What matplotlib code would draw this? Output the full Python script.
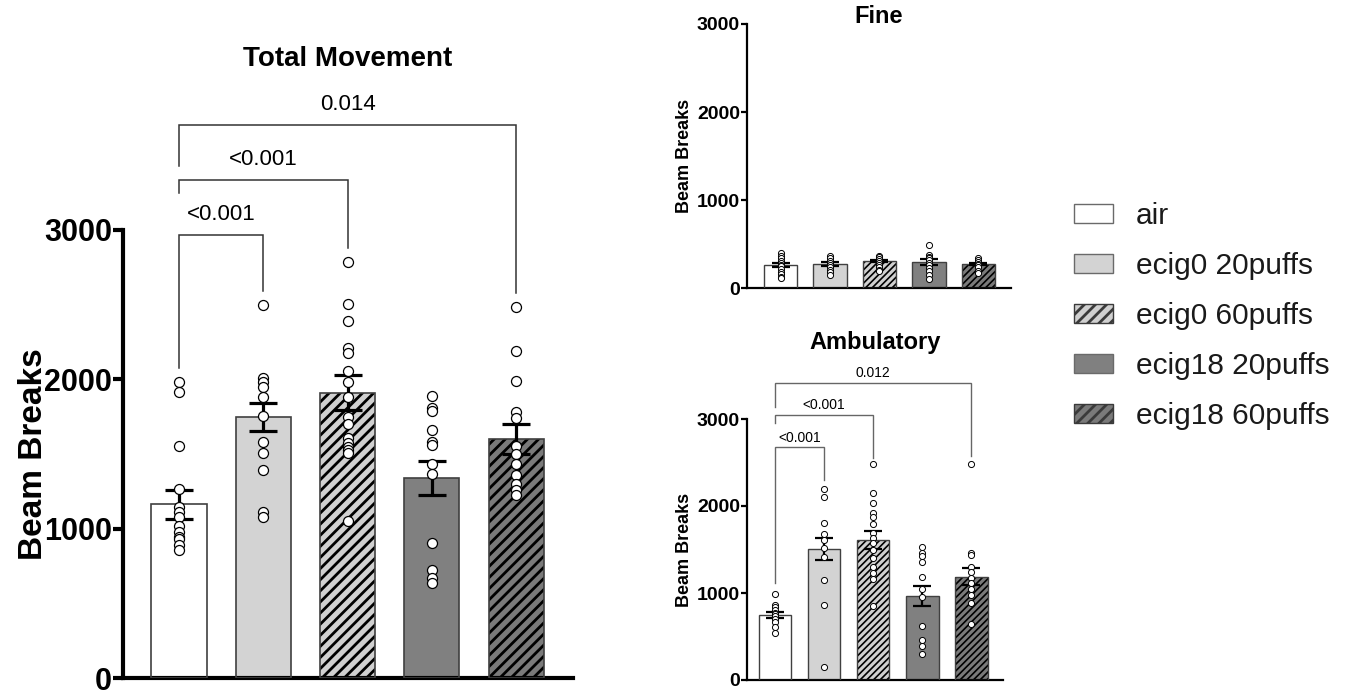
import matplotlib
matplotlib.use("Agg")
import matplotlib.pyplot as plt
from matplotlib.patches import Patch

plt.rcParams["font.family"] = ["Liberation Sans", "DejaVu Sans"]

# ---------------- data ----------------
groups = ["air", "ecig0 20puffs", "ecig0 60puffs", "ecig18 20puffs", "ecig18 60puffs"]

total_mean = [1163, 1746, 1911, 1340, 1601]
total_sem = [95, 93, 117, 115, 98]
total_air = [1980, 1918, 1554, 1264, 1147, 1114, 1080, 1020, 980, 947, 929, 891, 857]
total_e0_20 = [2498, 2007, 1985, 1951, 1884, 1755, 1583, 1509, 1393, 1114, 1080]
total_e0_60 = [2784, 2503, 2391, 2213, 2179, 2059, 1980, 1884, 1750, 1701, 1605,
               1576, 1549, 1527, 1505, 1052]
total_e18_20 = [1889, 1806, 1791, 1661, 1583, 1561, 1431, 1364, 902, 723, 667, 639]
total_e18_60 = [2485, 2192, 1989, 1778, 1743, 1551, 1499, 1435, 1362, 1297, 1259, 1228]

fine_mean = [264, 276, 310, 299, 276]
fine_sem = [22, 20, 16, 30, 16]
fine_air = [400, 370, 340, 310, 290, 270, 250, 220, 190, 160, 130, 120]
fine_e0_20 = [370, 340, 310, 290, 270, 240, 210, 180, 150]
fine_e0_60 = [370, 350, 330, 310, 290, 270, 240, 210, 200]
fine_e18_20 = [490, 380, 360, 340, 320, 290, 260, 230, 200, 150, 110]
fine_e18_60 = [340, 320, 300, 280, 260, 240, 200, 170]

amb_mean = [747, 1502, 1609, 966, 1188]
amb_sem = [40, 128, 107, 115, 100]
amb_air = [990, 860, 835, 805, 775, 755, 730, 700, 670, 610, 545]
amb_e0_20 = [2190, 2105, 1810, 1675, 1610, 1515, 1410, 1150, 860, 155]
amb_e0_60 = [2479, 2153, 2031, 1923, 1877, 1789, 1693, 1628, 1571, 1494, 1398,
             1303, 1226, 1157, 851]
amb_e18_20 = [1532, 1456, 1425, 1352, 1180, 1050, 950, 625, 460, 391, 295]
amb_e18_60 = [2483, 1464, 1433, 1303, 1238, 1169, 1111, 1042, 973, 881, 644]

# comparisons against air: (other group, bracket top, left leg end, right leg end)
total_pairs = [(1, 2969, 2076, 2594), (2, 3336, 3248, 2878), (4, 3704, 3429, 2577)]
total_pvals = ["<0.001", "<0.001", "0.014"]
amb_pairs = [(1, 2675, 1111, 2299), (2, 3046, 2950, 2548), (4, 3418, 3134, 2575)]
amb_pvals = ["<0.001", "<0.001", "0.012"]

# ---------------- styling ----------------
fills = ["white", "#d3d3d3", "#d0d0d0", "#808080", "#7a7a7a"]
hatched = [False, False, True, False, True]

big = dict(hatch="///", hatch_lw=2.0, bar_w=0.655, bar_lw=1.2, err_lw=2.3, cap=10,
           ms=7.2, mew=0.9, spine_lw=3.0, tick_len=7, tick_w=3.0, tick_fs=22,
           label_fs=24, p_fs=16, bracket_lw=1.1, bracket_c="#333333")
small = dict(hatch="/////", hatch_lw=1.2, bar_w=0.67, bar_lw=1.0, err_lw=1.6, cap=6.5,
             ms=4.4, mew=0.7, spine_lw=1.6, tick_len=4, tick_w=1.6, tick_fs=14,
             label_fs=13, p_fs=10, bracket_lw=1.0, bracket_c="#666666")


def draw_panel(ax, means, sems, points, s, xlim, ylim):
    for i, m in enumerate(means):
        plt.rcParams["hatch.linewidth"] = s["hatch_lw"]
        bars = ax.bar(i, m, width=s["bar_w"], color=fills[i], edgecolor="black",
                      linewidth=0, hatch=s["hatch"] if hatched[i] else None, zorder=2)
        for p in bars:
            if hasattr(p, "set_hatch_linewidth"):
                p.set_hatch_linewidth(s["hatch_lw"])
        ax.bar(i, m, width=s["bar_w"], fill=False, edgecolor="#404040",
               linewidth=s["bar_lw"], zorder=3)
    ax.errorbar(range(len(means)), means, yerr=sems, fmt="none", ecolor="black",
                elinewidth=s["err_lw"], capsize=s["cap"], capthick=s["err_lw"], zorder=4)
    for i, vals in enumerate(points):
        ax.plot([i] * len(vals), vals, linestyle="none", marker="o", ms=s["ms"],
                mfc="white", mec="black", mew=s["mew"], zorder=5, clip_on=False)
    ax.set_xlim(*xlim)
    ax.set_ylim(*ylim)
    for side in ("top", "right"):
        ax.spines[side].set_visible(False)
    for side in ("left", "bottom"):
        ax.spines[side].set_linewidth(s["spine_lw"])
        ax.spines[side].set_capstyle("projecting")
    ax.spines["left"].set_bounds(0, 3000)
    ax.set_xticks([])
    ax.set_yticks([0, 1000, 2000, 3000])
    ax.tick_params(axis="y", length=s["tick_len"], width=s["tick_w"], pad=1,
                   labelsize=s["tick_fs"])
    for t in ax.get_yticklabels():
        t.set_fontweight("bold")
    ax.patch.set_visible(False)


def draw_brackets(ax, pairs, pvals, offset, s):
    for (j, top, lb, rb), txt in zip(pairs, pvals):
        ax.plot([0, 0, j, j], [lb, top, top, rb], color=s["bracket_c"],
                lw=s["bracket_lw"], clip_on=False, zorder=1, solid_joinstyle="miter")
        ax.text(j / 2, top + offset, txt, ha="center", va="center",
                fontsize=s["p_fs"], color="black")


fig = plt.figure(figsize=(13.5, 6.94), dpi=100)

# Total movement
ax1 = fig.add_axes([123 / 1350, 16 / 694, 450 / 1350, 560 / 694])
draw_panel(ax1, total_mean, total_sem,
           [total_air, total_e0_20, total_e0_60, total_e18_20, total_e18_60],
           big, (-0.665, 4.675), (0, 3750))
draw_brackets(ax1, total_pairs, total_pvals, 135, big)
ax1.text(0.5, 1.105, "Total Movement", transform=ax1.transAxes, ha="center",
         va="center", fontsize=20, fontweight="bold")
ax1.text(-0.2, 0.4, "Beam Breaks", transform=ax1.transAxes, rotation=90,
         ha="center", va="center", fontsize=big["label_fs"], fontweight="bold")

# Fine
ax2 = fig.add_axes([747 / 1350, (694 - 288.3) / 694, 264 / 1350, 264.3 / 694])
draw_panel(ax2, fine_mean, fine_sem,
           [fine_air, fine_e0_20, fine_e0_60, fine_e18_20, fine_e18_60],
           small, (-0.677, 4.657), (0, 3000))
ax2.text(0.5, 1.03, "Fine", transform=ax2.transAxes, ha="center", va="center",
         fontsize=17, fontweight="bold")
ax2.text(-0.238, 0.5, "Beam Breaks", transform=ax2.transAxes, rotation=90,
         ha="center", va="center", fontsize=small["label_fs"], fontweight="bold")

# Ambulatory
ax3 = fig.add_axes([747 / 1350, 14 / 694, 256 / 1350, 304.5 / 694])
draw_panel(ax3, amb_mean, amb_sem,
           [amb_air, amb_e0_20, amb_e0_60, amb_e18_20, amb_e18_60],
           small, (-0.57, 4.65), (0, 3500))
draw_brackets(ax3, amb_pairs, amb_pvals, 112, small)
ax3.text(0.5, 1.108, "Ambulatory", transform=ax3.transAxes, ha="center",
         va="center", fontsize=17, fontweight="bold")
ax3.text(-0.245, 3000 / 3500 / 2, "Beam Breaks", transform=ax3.transAxes, rotation=90,
         ha="center", va="center", fontsize=small["label_fs"], fontweight="bold")

# Legend
plt.rcParams["hatch.linewidth"] = big["hatch_lw"]
handles = []
for i in range(len(groups)):
    h = Patch(facecolor=fills[i], edgecolor="#3a3a3a" if hatched[i] else "#6a6a6a",
              linewidth=1.0, hatch=big["hatch"] if hatched[i] else None)
    handles.append(h)
fig.legend(handles, groups, loc="upper left", bbox_to_anchor=(1074 / 1350, 1 - 202 / 694),
           frameon=False, fontsize=21.5, handlelength=1.3, handleheight=0.6,
           handletextpad=0.78, labelspacing=0.74, borderpad=0, borderaxespad=0,
           labelcolor="#1a1a1a")

fig.savefig("out.png", dpi=100)
